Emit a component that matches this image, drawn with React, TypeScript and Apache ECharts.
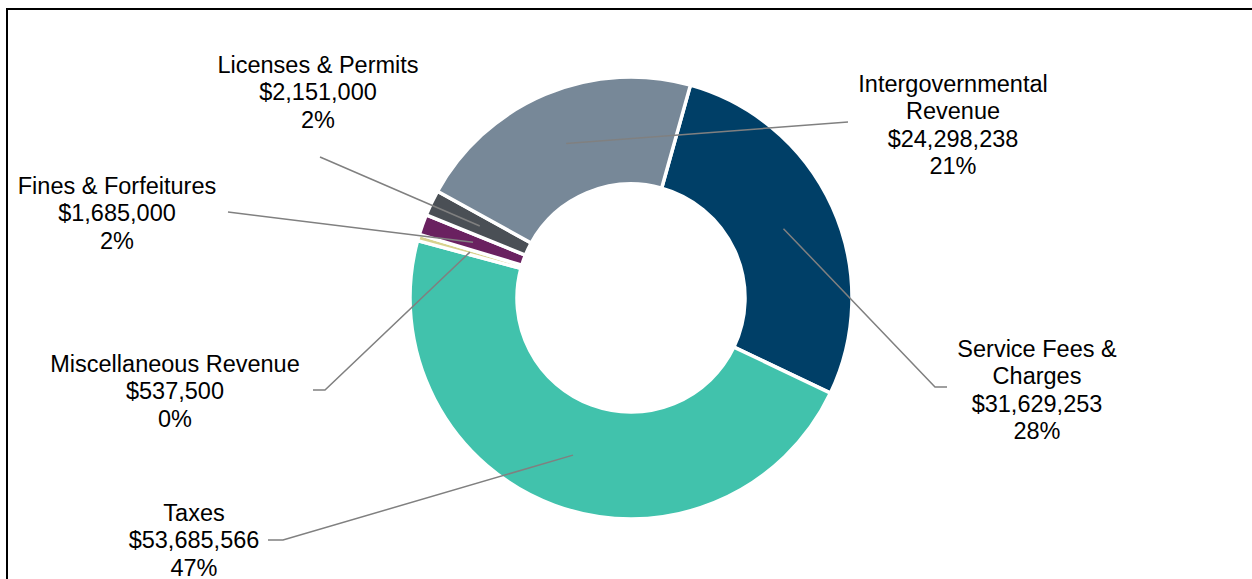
import React, { useEffect, useRef } from "react";
import * as echarts from "echarts";

// ---- data ----
const categories = [
  "Service Fees &\nCharges",
  "Taxes",
  "Miscellaneous Revenue",
  "Fines & Forfeitures",
  "Licenses & Permits",
  "Intergovernmental\nRevenue",
];
const revenueValues = [31629253, 53685566, 537500, 1685000, 2151000, 24298238];

// ---- styles / layout ----
const sliceColors = ["#003F67", "#41C2AC", "#D8D28E", "#6A2160", "#4A4F55", "#778898"];
const CENTER: [number, number] = [631, 298];
const R_IN = 114;
const R_OUT = 221;
const START_ANGLE = 74.4;
const labelAnchors: [number, number][] = [
  [1037, 390],
  [194, 540],
  [175, 391],
  [117, 213],
  [318, 92],
  [953, 125],
];
const leaderEnds: [number, number][][] = [
  [[935, 387], [947, 387]],
  [[283, 540], [268, 540]],
  [[325, 390], [313, 390]],
  [[228, 212], [228, 212]],
  [[320, 157], [320, 157]],
  [[848, 122], [848, 122]],
];

function midRingPoint(i: number): [number, number] {
  const total = revenueValues.reduce((a, b) => a + b, 0);
  let before = 0;
  for (let k = 0; k < i; k++) before += revenueValues[k];
  const frac = (before + revenueValues[i] / 2) / total;
  const theta = ((90 - START_ANGLE) + 360 * frac) * (Math.PI / 180);
  const r = (R_IN + R_OUT) / 2;
  return [CENTER[0] + r * Math.sin(theta), CENTER[1] - r * Math.cos(theta)];
}

export default function App() {
  const ref = useRef<HTMLDivElement>(null);
  useEffect(() => {
    if (!ref.current) return;
    const chart = echarts.init(ref.current, null, { renderer: "svg" });
    const common = {
      type: "pie",
      center: CENTER,
      radius: [R_IN, R_OUT],
      startAngle: START_ANGLE,
      clockwise: true,
      percentPrecision: 0,
      silent: true,
      emphasis: { disabled: true, scale: false },
    };
    chart.setOption({
      animation: false,
      backgroundColor: "#ffffff",
      graphic: [
        {
          type: "rect",
          shape: { x: 7, y: 9, width: 1400, height: 800 },
          style: { fill: "none", stroke: "#000000", lineWidth: 2 },
          silent: true,
        },
      ],
      series: [
        {
          ...common,
          z: 2,
          itemStyle: { borderColor: "#ffffff", borderWidth: 3.5 },
          label: { show: false },
          labelLine: { show: false },
          data: categories.map((name, i) => ({
            name,
            value: revenueValues[i],
            itemStyle: { color: sliceColors[i] },
          })),
        },
        {
          ...common,
          z: 5,
          itemStyle: { color: "rgba(0,0,0,0)", borderWidth: 0 },
          label: {
            show: true,
            position: "outside",
            overflow: "none",
            color: "#000000",
            fontFamily: "'Liberation Sans', Arial, sans-serif",
            fontSize: 23.5,
            lineHeight: 27.5,
            align: "center",
            formatter: (p: any) =>
              `${p.name}\n$${Number(p.value).toLocaleString("en-US")}\n${p.percent}%`,
          },
          labelLine: {
            show: true,
            smooth: false,
            lineStyle: { color: "#808080", width: 1.5 },
          },
          labelLayout: (p: any) => {
            const i = p.dataIndex;
            const m = midRingPoint(i);
            return {
              x: labelAnchors[i][0],
              y: labelAnchors[i][1],
              align: "center",
              verticalAlign: "middle",
              labelLinePoints: [m, leaderEnds[i][0], leaderEnds[i][1]],
            };
          },
          data: categories.map((name, i) => ({
            name,
            value: revenueValues[i],
          })),
        },
      ],
    });
    return () => chart.dispose();
  }, []);
  return (
    <div
      ref={ref}
      style={{ position: "fixed", left: 0, top: 0, width: 1252, height: 579, background: "#fff" }}
    />
  );
}
